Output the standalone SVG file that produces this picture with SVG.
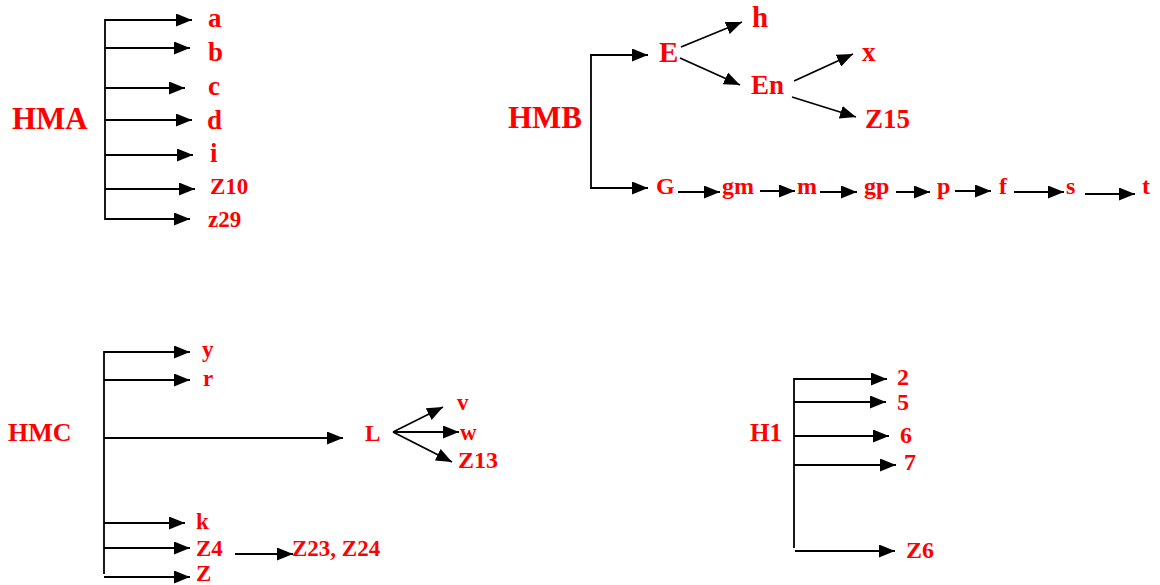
<svg xmlns="http://www.w3.org/2000/svg" width="1160" height="585" viewBox="0 0 1160 585">
<style>
.t{font-family:"Liberation Serif","Times New Roman",serif;font-weight:bold;fill:#ff0000}
.f31{font-size:31px}
.f29{font-size:29px}
.f27{font-size:27px}
.f26{font-size:26px}
.f25{font-size:25px}
.f24{font-size:24px}
.f23{font-size:23px}
.c line,.c path{stroke:#000;stroke-width:1.8;fill:none}
.a{marker-end:url(#ah)}
</style>
<defs>
<marker id="ah" markerUnits="userSpaceOnUse" markerWidth="17" markerHeight="13" refX="16" refY="6.5" orient="auto">
<path d="M0,0 L16,6.5 L0,13 z" fill="#000"/>
</marker>
</defs>
<rect width="1160" height="585" fill="#fff"/>
<g id="connectors" class="c">
<line x1="105" y1="19" x2="105" y2="220"/>
<line class="a" x1="105" y1="20" x2="192" y2="20"/>
<line class="a" x1="105" y1="48" x2="190" y2="48"/>
<line class="a" x1="105" y1="88" x2="185" y2="88"/>
<line class="a" x1="105" y1="120" x2="192" y2="120"/>
<line class="a" x1="105" y1="155" x2="193" y2="155"/>
<line class="a" x1="105" y1="189" x2="195" y2="189"/>
<line class="a" x1="105" y1="219" x2="190" y2="219"/>
<line x1="591" y1="54.1" x2="591" y2="188.9"/>
<line class="a" x1="590.1" y1="55" x2="648" y2="55"/>
<line class="a" x1="590.1" y1="188" x2="648" y2="188"/>
<line class="a" x1="681" y1="47" x2="742" y2="22"/>
<line class="a" x1="680" y1="58" x2="740" y2="85"/>
<line class="a" x1="794" y1="81" x2="853" y2="54"/>
<line class="a" x1="792" y1="97" x2="856" y2="117"/>
<line class="a" x1="678" y1="192" x2="720" y2="192"/>
<line class="a" x1="760" y1="191" x2="795" y2="191"/>
<line class="a" x1="820" y1="192" x2="857" y2="192"/>
<line class="a" x1="896" y1="192" x2="930" y2="192"/>
<line class="a" x1="955" y1="191" x2="991" y2="191"/>
<line class="a" x1="1014" y1="192" x2="1064" y2="192"/>
<line class="a" x1="1085" y1="194" x2="1135" y2="194"/>
<line x1="104" y1="351" x2="104" y2="574"/>
<line class="a" x1="104" y1="352" x2="190" y2="352"/>
<line class="a" x1="104" y1="380" x2="190" y2="380"/>
<line class="a" x1="104" y1="438" x2="343" y2="438"/>
<line class="a" x1="104" y1="523" x2="185" y2="523"/>
<line class="a" x1="104" y1="548" x2="190" y2="548"/>
<line class="a" x1="104" y1="577" x2="190" y2="577"/>
<line class="a" x1="393" y1="432" x2="443" y2="407"/>
<line class="a" x1="393" y1="432" x2="459" y2="432"/>
<line class="a" x1="393" y1="432" x2="452" y2="462"/>
<line class="a" x1="235" y1="554" x2="293" y2="554"/>
<line x1="794" y1="378" x2="794" y2="548"/>
<line class="a" x1="794" y1="379" x2="887" y2="379"/>
<line class="a" x1="794" y1="402" x2="886" y2="402"/>
<line class="a" x1="794" y1="436" x2="889" y2="436"/>
<line class="a" x1="794" y1="465" x2="896" y2="465"/>
<line class="a" x1="795" y1="551" x2="895" y2="551"/>
</g>
<g id="HMA"><text class="t f31" x="12" y="129">HMA</text></g>
<g id="a"><text class="t f27" x="208" y="27">a</text></g>
<g id="b"><text class="t f27" x="208" y="61">b</text></g>
<g id="c"><text class="t f27" x="208" y="95">c</text></g>
<g id="d"><text class="t f27" x="207" y="129">d</text></g>
<g id="i"><text class="t f27" x="210" y="162">i</text></g>
<g id="Z10"><text class="t f23" x="210" y="194">Z10</text></g>
<g id="z29"><text class="t f23" x="208" y="227">z29</text></g>
<g id="HMB"><text class="t f31" x="508" y="128">HMB</text></g>
<g id="E"><text class="t f29" x="659" y="62">E</text></g>
<g id="h"><text class="t f29" x="752" y="27">h</text></g>
<g id="En"><text class="t f27" x="751" y="94">En</text></g>
<g id="x"><text class="t f27" x="862" y="61">x</text></g>
<g id="Z15"><text class="t f27" x="865" y="128">Z15</text></g>
<g id="G"><text class="t f24" x="656" y="194">G</text></g>
<g id="gm"><text class="t f24" x="722" y="194">gm</text></g>
<g id="m"><text class="t f24" x="797" y="194">m</text></g>
<g id="gp"><text class="t f24" x="864" y="194">gp</text></g>
<g id="p"><text class="t f24" x="937" y="194">p</text></g>
<g id="f"><text class="t f24" x="999" y="194">f</text></g>
<g id="s"><text class="t f24" x="1066" y="194">s</text></g>
<g id="t"><text class="t f24" x="1142" y="194">t</text></g>
<g id="HMC"><text class="t f26" x="8" y="441">HMC</text></g>
<g id="y"><text class="t f23" x="202" y="357">y</text></g>
<g id="r"><text class="t f23" x="203" y="386">r</text></g>
<g id="L"><text class="t f23" x="365" y="441">L</text></g>
<g id="v"><text class="t f23" x="457" y="410">v</text></g>
<g id="w"><text class="t f23" x="460" y="440">w</text></g>
<g id="Z13"><text class="t f24" x="458" y="468">Z13</text></g>
<g id="k"><text class="t f23" x="196" y="529">k</text></g>
<g id="Z4"><text class="t f23" x="196" y="556">Z4</text></g>
<g id="Z23Z24"><text class="t f23" x="292" y="556">Z23, Z24</text></g>
<g id="Z"><text class="t f23" x="196" y="581">Z</text></g>
<g id="H1"><text class="t f25" x="750" y="441">H1</text></g>
<g id="n2"><text class="t f24" x="897" y="385">2</text></g>
<g id="n5"><text class="t f24" x="897" y="410">5</text></g>
<g id="n6"><text class="t f24" x="900" y="443">6</text></g>
<g id="n7"><text class="t f24" x="904" y="470">7</text></g>
<g id="Z6"><text class="t f24" x="906" y="558">Z6</text></g>
</svg>
